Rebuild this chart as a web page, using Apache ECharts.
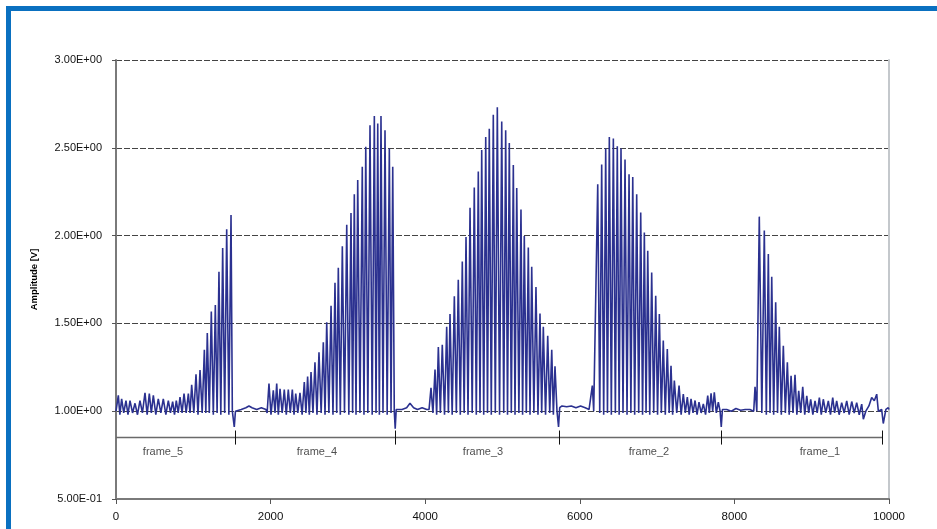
<!DOCTYPE html>
<html>
<head>
<meta charset="utf-8">
<script src="https://cdn.jsdelivr.net/npm/echarts@6/dist/echarts.min.js"></script>
<style>
  html, body { margin: 0; padding: 0; background: #ffffff; }
  #chart { position: absolute; left: 0; top: 0; width: 937px; height: 529px; }
  #frameDeco { position: absolute; left: 6px; top: 6px; right: 0; bottom: 0;
    border-top: 5px solid #0a70c0; border-left: 5px solid #0a70c0; pointer-events: none; }
</style>
</head>
<body>
<div id="chart"></div>
<div id="frameDeco"></div>
<script>
// ---- data ----
const xTicks = [0, 2000, 4000, 6000, 8000, 10000];
const yTicks = [0.5, 1.0, 1.5, 2.0, 2.5, 3.0];

const frame5Wave = [[0,1.00],[30,1.09],[50,0.98],[73,1.07],[100,0.99],[129,1.06],[155,0.98],[181,1.06],[214,0.99],[246,1.045],[278,0.98],[310,1.06],[342,0.99],[375,1.105],[403,0.98],[431,1.10],[457,0.99],[483,1.09],[515,0.98],[547,1.07],[580,0.99],[612,1.07],[645,0.98],[677,1.06],[705,0.99],[733,1.055],[757,0.98],[780,1.06],[805,0.99],[828,1.08],[855,0.99],[880,1.10],[908,0.99],[936,1.10],[958,0.99],[979,1.15],[1007,0.99],[1035,1.21],[1061,0.98],[1087,1.235],[1115,0.99],[1143,1.35],[1162,0.99],[1181,1.445],[1207,0.99],[1233,1.567],[1259,0.98],[1285,1.605],[1308,0.99],[1332,1.794],[1356,0.98],[1380,1.93],[1406,0.99],[1432,2.036],[1460,0.98],[1488,2.117],[1505,1.00],[1515,0.99],[1530,0.91],[1545,1.00]];
const gap54 = [[1560,1.00],[1620,1.01],[1680,1.02],[1720,1.03],[1760,1.02],[1820,1.01],[1880,1.02],[1940,1.01]];
const frame4Wave = [[1955,0.99],[1979,1.157],[2005,0.98],[2035,1.119],[2057,0.99],[2079,1.157],[2100,0.98],[2122,1.128],[2150,0.99],[2177,1.123],[2203,0.98],[2229,1.123],[2255,0.99],[2281,1.123],[2303,0.98],[2325,1.10],[2352,0.99],[2380,1.104],[2408,0.98],[2436,1.166],[2457,0.99],[2479,1.198],[2501,0.98],[2523,1.223],[2548,0.99],[2574,1.279],[2600,0.98],[2626,1.336],[2654,0.99],[2682,1.392],[2704,0.98],[2726,1.506],[2754,0.99],[2782,1.60],[2807,0.98],[2833,1.732],[2855,0.99],[2876,1.817],[2902,0.98],[2928,1.94],[2956,0.99],[2985,2.062],[3012,0.98],[3040,2.128],[3061,0.99],[3083,2.236],[3105,0.98],[3127,2.317],[3156,0.99],[3186,2.392],[3208,0.98],[3231,2.506],[3258,0.99],[3286,2.628],[3314,0.98],[3342,2.681],[3364,0.99],[3386,2.638],[3407,0.98],[3428,2.681],[3454,0.99],[3480,2.60],[3508,0.98],[3536,2.496],[3558,0.99],[3580,2.392],[3600,1.00],[3612,0.90],[3625,1.01]];
const gap43 = [[3650,1.00],[3700,1.01],[3760,1.02],[3803,1.045],[3850,1.02],[3900,1.01],[3960,1.02],[4020,1.01],[4050,1.01]];
const frame3Wave = [[4075,1.133],[4100,0.99],[4127,1.237],[4148,0.98],[4170,1.365],[4196,0.99],[4221,1.378],[4250,0.98],[4278,1.481],[4300,0.99],[4321,1.553],[4349,0.98],[4377,1.654],[4403,0.99],[4428,1.748],[4454,0.98],[4480,1.853],[4504,0.99],[4528,1.992],[4554,0.98],[4580,2.158],[4608,0.99],[4635,2.274],[4661,0.98],[4687,2.365],[4709,0.99],[4731,2.487],[4757,0.98],[4783,2.562],[4806,0.99],[4829,2.609],[4855,0.98],[4881,2.688],[4907,0.99],[4933,2.731],[4962,0.98],[4990,2.65],[5016,0.99],[5041,2.60],[5065,0.98],[5088,2.528],[5114,0.99],[5140,2.402],[5162,0.98],[5184,2.271],[5212,0.99],[5239,2.148],[5260,0.98],[5282,1.998],[5308,0.99],[5334,1.932],[5356,0.98],[5378,1.823],[5406,0.99],[5433,1.707],[5459,0.98],[5485,1.556],[5507,0.99],[5528,1.481],[5557,0.98],[5585,1.429],[5611,0.99],[5637,1.35],[5658,0.98],[5679,1.256],[5705,1.00],[5725,0.91],[5740,1.02]];
const gap32 = [[5770,1.03],[5830,1.025],[5890,1.03],[5950,1.02],[6010,1.03],[6070,1.02],[6120,1.01],[6145,1.00],[6162,1.146],[6180,1.00],[6205,0.99]];
const frame2Wave = [[6232,2.292],[6258,0.99],[6283,2.405],[6309,0.98],[6335,2.496],[6358,0.99],[6382,2.561],[6408,0.98],[6434,2.553],[6460,0.99],[6485,2.509],[6509,0.98],[6533,2.496],[6559,0.99],[6585,2.434],[6611,0.98],[6637,2.349],[6661,0.99],[6685,2.333],[6710,0.98],[6736,2.235],[6762,0.99],[6788,2.131],[6812,0.98],[6835,2.017],[6857,0.99],[6879,1.913],[6905,0.98],[6930,1.79],[6956,0.99],[6982,1.657],[7006,0.98],[7029,1.553],[7055,0.99],[7080,1.402],[7106,0.98],[7132,1.354],[7156,0.99],[7180,1.259],[7201,0.98],[7223,1.174],[7254,0.99],[7284,1.146],[7311,0.98],[7339,1.098],[7365,0.99],[7391,1.08],[7415,0.98],[7439,1.07],[7465,0.99],[7491,1.061],[7517,0.98],[7542,1.051],[7570,0.99],[7598,1.042],[7627,0.98],[7655,1.089],[7676,0.99],[7698,1.102],[7719,1.00],[7740,1.108],[7766,0.99],[7792,1.051],[7815,1.00],[7830,0.91],[7845,1.01]];
const gap21 = [[7900,1.01],[7960,1.00],[8020,1.015],[8080,1.005],[8140,1.01],[8200,1.01],[8250,1.00],[8267,1.139],[8290,1.00]];
const frame1Wave = [[8322,2.108],[8355,0.99],[8387,2.029],[8413,0.98],[8439,1.895],[8461,0.99],[8483,1.766],[8508,0.98],[8534,1.62],[8558,0.99],[8581,1.481],[8607,0.98],[8633,1.373],[8659,0.99],[8685,1.278],[8709,0.98],[8733,1.202],[8758,0.99],[8784,1.207],[8808,0.98],[8832,1.116],[8858,0.99],[8884,1.139],[8910,0.98],[8936,1.087],[8961,0.99],[8987,1.068],[9015,0.98],[9043,1.059],[9071,0.99],[9099,1.078],[9124,0.98],[9150,1.068],[9182,0.99],[9215,1.059],[9243,0.98],[9272,1.078],[9297,0.99],[9323,1.059],[9355,0.98],[9388,1.049],[9420,0.99],[9453,1.059],[9485,0.98],[9518,1.055],[9550,0.99],[9582,1.049],[9615,0.98],[9647,1.04],[9668,0.954],[9700,1.00],[9740,1.03],[9776,1.078],[9810,1.06],[9841,1.097],[9862,1.00],[9884,1.002],[9905,1.01],[9926,0.93],[9960,1.01],[9991,1.02],[10000,1.01]];

const frameNames = ['frame_5', 'frame_4', 'frame_3', 'frame_2', 'frame_1'];
const frameLabelX = [608, 2600, 4748, 6895, 9107];
const frameBoundaries = [1540, 3617, 5731, 7827, 9918];
const frameLineY = 0.85;
const frameTickLow = 0.81;
const frameTickHigh = 0.89;
const frameLabelY = 0.767;

// ---- build ----
const wave = [].concat(frame5Wave, gap54, frame4Wave, gap43, frame3Wave, gap32, frame2Wave, gap21, frame1Wave);

function sci(v) {
  const s = Number(v).toExponential(2);
  const parts = s.split('e');
  const sign = parts[1][0] === '-' ? '-' : '+';
  let d = parts[1].replace(/[+-]/, '');
  if (d.length < 2) d = '0' + d;
  return parts[0] + 'E' + sign + d;
}

const chart = echarts.init(document.getElementById('chart'), null, { renderer: 'canvas' });
const font = 'Liberation Sans, Arial, sans-serif';
chart.setOption({
  animation: false,
  backgroundColor: 'transparent',
  textStyle: { fontFamily: font },
  grid: { left: 116, right: 48, top: 60, bottom: 30, containLabel: false },
  xAxis: {
    type: 'value', min: xTicks[0], max: xTicks[xTicks.length - 1], interval: 2000,
    axisLine: { show: true, onZero: false, lineStyle: { color: '#7a7a7a', width: 2 } },
    axisTick: { show: true, length: 5, lineStyle: { color: '#555', width: 1 } },
    axisLabel: { color: '#111', fontSize: 11.5, margin: 12, fontFamily: font, formatter: v => String(Math.round(v)) },
    splitLine: { show: false }
  },
  yAxis: [{
    type: 'value', min: yTicks[0], max: yTicks[yTicks.length - 1], interval: 0.5,
    name: 'Amplitude [V]', nameLocation: 'middle', nameGap: 77, nameRotate: 90,
    nameTextStyle: { color: '#000', fontSize: 9.5, fontWeight: 'bold', fontFamily: font },
    axisLine: { show: true, onZero: false, lineStyle: { color: '#7a7a7a', width: 2 } },
    axisTick: { show: true, length: 4, lineStyle: { color: '#555', width: 1 } },
    axisLabel: { color: '#111', fontSize: 11, margin: 14, formatter: sci, fontFamily: font },
    splitLine: { show: true, lineStyle: { color: '#444', width: 1, type: [6, 2] } }
  }, {
    type: 'value', position: 'right', min: yTicks[0], max: yTicks[yTicks.length - 1], interval: 0.5,
    axisLine: { show: true, onZero: false, lineStyle: { color: '#c4c8cc', width: 2 } },
    axisTick: { show: false }, axisLabel: { show: false }, splitLine: { show: false }
  }],
  series: [
    {
      name: 'signal', type: 'line', data: wave, showSymbol: false, symbol: 'none',
      sampling: null, z: 3,
      lineStyle: { color: '#2b3190', width: 1.6 }
    },
    {
      name: 'frames', type: 'line', showSymbol: false, symbol: 'none', z: 2,
      data: [[0, frameLineY], [frameBoundaries[frameBoundaries.length - 1], frameLineY]],
      lineStyle: { color: '#6a6a6a', width: 1.5 },
      markLine: {
        silent: true, symbol: 'none', animation: false,
        label: { show: false },
        lineStyle: { color: '#111', width: 1, type: 'solid' },
        data: frameBoundaries.map(b => [{ coord: [b, frameTickLow] }, { coord: [b, frameTickHigh] }])
      }
    },
    {
      name: 'frameLabels', type: 'scatter', symbolSize: 0, z: 4,
      data: frameNames.map((n, i) => [frameLabelX[i], frameLabelY, n]),
      label: { show: true, position: 'inside', formatter: p => p.value[2], color: '#222', fontSize: 11, fontFamily: font }
    }
  ]
});
</script>
</body>
</html>
